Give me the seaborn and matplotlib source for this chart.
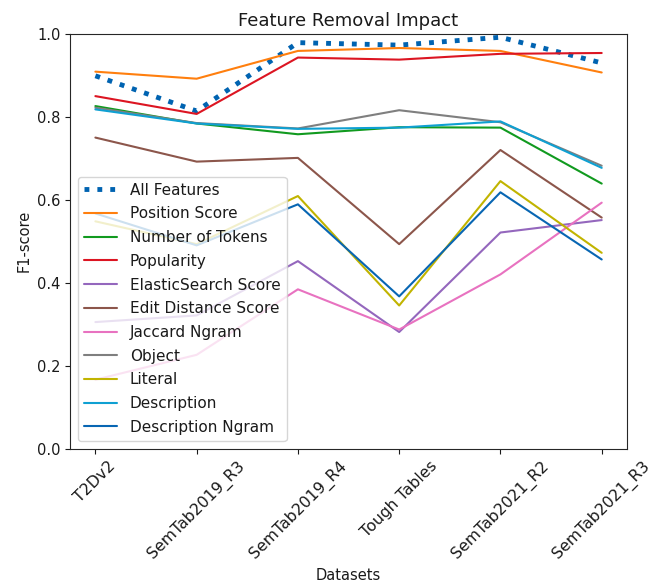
import matplotlib
matplotlib.use("Agg")
import matplotlib.pyplot as plt
import seaborn as sns
import pandas as pd

datasets = ["T2Dv2", "SemTab2019_R3", "SemTab2019_R4", "Tough Tables",
            "SemTab2021_R2", "SemTab2021_R3"]

all_features = [0.899, 0.814, 0.979, 0.973, 0.992, 0.930]
position_score = [0.909, 0.892, 0.959, 0.966, 0.959, 0.907]
number_of_tokens = [0.826, 0.784, 0.758, 0.775, 0.774, 0.639]
popularity = [0.850, 0.807, 0.943, 0.938, 0.952, 0.954]
elasticsearch_score = [0.305, 0.321, 0.452, 0.281, 0.521, 0.551]
edit_distance_score = [0.750, 0.692, 0.701, 0.493, 0.720, 0.557]
jaccard_ngram = [0.166, 0.226, 0.384, 0.287, 0.420, 0.593]
object_feat = [0.822, 0.785, 0.772, 0.816, 0.787, 0.682]
literal = [0.548, 0.493, 0.609, 0.345, 0.645, 0.472]
description = [0.818, 0.784, 0.771, 0.774, 0.789, 0.677]
description_ngram = [0.567, 0.490, 0.589, 0.367, 0.618, 0.456]

series = [
    ("All Features", all_features, "#0063b1"),
    ("Position Score", position_score, "#ff7f0e"),
    ("Number of Tokens", number_of_tokens, "#119a1f"),
    ("Popularity", popularity, "#dc1522"),
    ("ElasticSearch Score", elasticsearch_score, "#9467bd"),
    ("Edit Distance Score", edit_distance_score, "#8c564b"),
    ("Jaccard Ngram", jaccard_ngram, "#e872c0"),
    ("Object", object_feat, "#7f7f7f"),
    ("Literal", literal, "#c1b400"),
    ("Description", description, "#0fa0d2"),
    ("Description Ngram", description_ngram, "#0866b3"),
]

sns.set_style("ticks")
plt.rcParams["font.family"] = ["DejaVu Sans"]
plt.rcParams["text.color"] = "#1a1a1a"
plt.rcParams["axes.labelcolor"] = "#1a1a1a"
plt.rcParams["xtick.color"] = "#1a1a1a"
plt.rcParams["ytick.color"] = "#1a1a1a"

fig = plt.figure(figsize=(6.61, 5.85), dpi=100)
ax = fig.add_axes([0.106, 0.2333, 0.8426, 0.7087])

for name, vals, color in series:
    df = pd.DataFrame({"Dataset": datasets, "F1": vals})
    if name == "All Features":
        sns.lineplot(data=df, x="Dataset", y="F1", ax=ax, color=color,
                     linestyle=":", linewidth=3.5, label=name, sort=False)
    else:
        sns.lineplot(data=df, x="Dataset", y="F1", ax=ax, color=color,
                     linewidth=1.5, label=name, sort=False)

ax.set_ylim(0, 1)
ax.set_yticks([0.0, 0.2, 0.4, 0.6, 0.8, 1.0])
ax.set_title("Feature Removal Impact", fontsize=13)
ax.set_xlabel("Datasets", fontsize=10.5)
ax.set_ylabel("F1-score", fontsize=10.5)
ax.tick_params(axis="y", labelsize=10.5)
ax.tick_params(axis="x", labelsize=11.3)
plt.setp(ax.get_xticklabels(), rotation=45)
ax.legend(loc="lower left", fontsize=11, framealpha=0.8,
          labelspacing=0.57, handlelength=2.2)

fig.savefig("out.png", dpi=100)
